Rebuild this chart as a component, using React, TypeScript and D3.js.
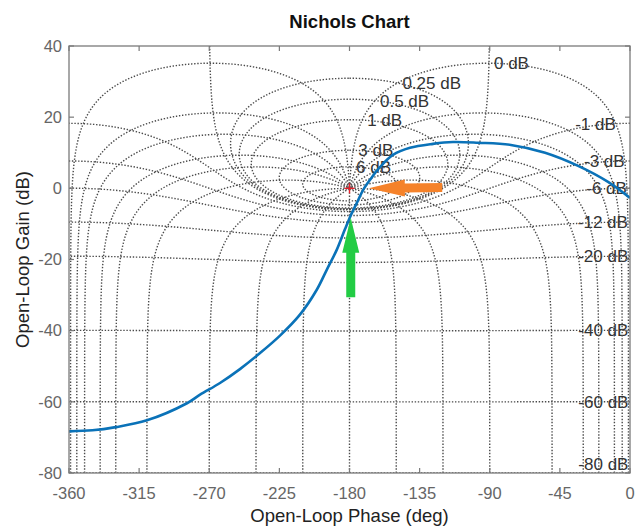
import React from "react";
import * as d3 from "d3";

// ---------- data ----------
const phaseTicks = [-360, -315, -270, -225, -180, -135, -90, -45, 0];
const gainTicks = [-80, -60, -40, -20, 0, 20, 40];

// closed-loop magnitude contours (dB)
const clGainContours = [6, 3, 1, 0.5, 0.25, 0, -1, -3, -6, -12, -20, -40, -60, -80];
const clGainLabels = ["6 dB", "3 dB", "1 dB", "0.5 dB", "0.25 dB", "0 dB", "-1 dB", "-3 dB", "-6 dB", "-12 dB", "-20 dB", "-40 dB", "-60 dB", "-80 dB"];
// closed-loop phase contours (deg)
const clPhaseContours = [-1, -5, -10, -20, -30, -50, -90, -120, -150, -180];

// open-loop response
const olPhase = [-360, -345, -330, -310, -284.3, -275.9, -263.1, -250.3, -237.4, -224.6, -211.8, -201.0, -194.6, -188.2, -183, -179.7, -175.2, -171.3, -166.8, -160.4, -152.1, -141.2, -126.4, -113.6, -97.5, -76.4, -54.5, -33.3, -14.1, 0];
const olGain = [-68.3, -68.0, -67.1, -65.2, -60.4, -58.0, -54.7, -50.8, -46.3, -41.4, -35.5, -28.5, -22.9, -17.3, -11.6, -8.1, -4.0, -0.5, 2.4, 6.0, 9.4, 11.4, 12.5, 13.0, 12.8, 12.2, 10.0, 6.3, 1.8, -2.7];

const criticalPoint = { phase: -180, gain: 0 };
// annotation arrows [tailPhase, tailGain, tipPhase, tipGain]
const orangeArrow = [-120.5, 0.2, -167.6, 0.0];
const greenArrow = [-179.2, -30.6, -179.2, -8.3];

// ---------- layout ----------
const W = 638, H = 527;
const L = 69, R = 630, T = 46, B = 473;
const FONT = "'Liberation Sans', Arial, Helvetica, sans-serif";

const x = d3.scaleLinear().domain([-360, 0]).range([L, R]);
const y = d3.scaleLinear().domain([-80, 40]).range([B, T]);

// open-loop point from closed-loop M (linear) and phase (rad)
function ol(M: number, th: number): [number, number] {
  const tre = M * Math.cos(th), tim = M * Math.sin(th);
  const dre = 1 - tre, dim = -tim;
  const dmag = Math.hypot(dre, dim);
  const g = M / dmag;
  const ph = (th - Math.atan2(dim, dre)) * 180 / Math.PI;
  return [ph, 20 * Math.log10(g)];
}

const thetaSamples: number[] = (() => {
  const s = new Set<number>();
  for (let i = 0; i <= 500; i++) s.add(Math.pow(10, -4 + (i / 500) * (Math.log10(180) + 4)));
  for (let i = 1; i <= 360; i++) s.add(i * 0.5);
  return Array.from(s).sort((a, b) => a - b).map(v => -v);
})();

const mdbSamples: number[] = (() => {
  const s = new Set<number>([0]);
  for (let i = 0; i <= 600; i++) {
    const v = Math.pow(10, -4 + (i / 600) * 6);
    s.add(v); s.add(-v);
  }
  return Array.from(s).sort((a, b) => a - b);
})();

const line = d3.line<[number, number]>().x(d => x(d[0])).y(d => y(d[1]));

function gainContour(mdb: number): [number, number][] {
  const M = Math.pow(10, mdb / 20);
  const right = thetaSamples.map(t => ol(M, t * Math.PI / 180));
  const left = right.slice().reverse().map(([p, g]) => [-360 - p, g] as [number, number]);
  return right.concat(left);
}

function phaseContour(thDeg: number): [number, number][][] {
  const th = thDeg * Math.PI / 180;
  const right = mdbSamples.map(m => ol(Math.pow(10, m / 20), th));
  if (thDeg === -180) return [right];
  const left = right.map(([p, g]) => [-360 - p, g] as [number, number]);
  return [right, left];
}

const gridPaths: string[] = [];
clGainContours.forEach(m => gridPaths.push(line(gainContour(m)) as string));
clPhaseContours.forEach(t => phaseContour(t).forEach(seg => gridPaths.push(line(seg) as string)));

const curvePts: [number, number][] = olPhase.map((p, i) => [p, olGain[i]]);
const curvePath = d3.line<[number, number]>().x(d => x(d[0])).y(d => y(d[1])).curve(d3.curveCatmullRom.alpha(0.5))(curvePts) as string;

function arrowPath(a: number[], shaft: number, headW: number, headL: number): string {
  const x0 = x(a[0]), y0 = y(a[1]), x1 = x(a[2]), y1 = y(a[3]);
  const len = Math.hypot(x1 - x0, y1 - y0);
  const ux = (x1 - x0) / len, uy = (y1 - y0) / len;
  const nx = -uy, ny = ux;
  const bx = x1 - ux * headL, by = y1 - uy * headL;
  const pts = [
    [x0 + nx * shaft / 2, y0 + ny * shaft / 2],
    [bx + nx * shaft / 2, by + ny * shaft / 2],
    [bx + nx * headW / 2, by + ny * headW / 2],
    [x1, y1],
    [bx - nx * headW / 2, by - ny * headW / 2],
    [bx - nx * shaft / 2, by - ny * shaft / 2],
    [x0 - nx * shaft / 2, y0 - ny * shaft / 2],
  ];
  return "M" + pts.map(p => p[0].toFixed(2) + "," + p[1].toFixed(2)).join("L") + "Z";
}

export default function App() {
  const labels = clGainContours.map((m, i) => {
    const [p, g] = ol(Math.pow(10, m / 20), -1 * Math.PI / 180);
    const pos = m >= 0;
    let ly = y(g);
    ly = Math.min(ly, B - 9);
    return (
      <text key={"l" + i} x={x(p) + (pos ? 5 : 0)} y={ly} dy="0.35em"
        textAnchor={pos ? "start" : "end"} fontSize={17} fill="#333" fontFamily={FONT}>
        {clGainLabels[i]}
      </text>
    );
  });

  return (
    <div style={{ position: "fixed", left: 0, top: 0, width: W, height: H, background: "#fff" }}>
      <svg width={W} height={H} viewBox={`0 0 ${W} ${H}`} style={{ display: "block" }}>
        <defs>
          <clipPath id="plotclip">
            <rect x={L} y={T} width={R - L} height={B - T} />
          </clipPath>
        </defs>
        <rect x={0} y={0} width={W} height={H} fill="#fff" />
        <g clipPath="url(#plotclip)">
          {labels}
          {gridPaths.map((d, i) => (
            <path key={"g" + i} d={d} fill="none" stroke="#4a4a4a" strokeWidth={1.4} strokeDasharray="1.4 1.7" />
          ))}
          <path d={curvePath} fill="none" stroke="#0a72b8" strokeWidth={2.6} />
          <g stroke="#e8202a" strokeWidth={1.4}>
            <line x1={x(criticalPoint.phase) - 5} x2={x(criticalPoint.phase) + 5} y1={y(criticalPoint.gain)} y2={y(criticalPoint.gain)} />
            <line x1={x(criticalPoint.phase)} x2={x(criticalPoint.phase)} y1={y(criticalPoint.gain) - 5} y2={y(criticalPoint.gain) + 5} />
          </g>
          <path d={arrowPath(orangeArrow, 9, 17, 36)} fill="#f5822a" />
          <path d={arrowPath(greenArrow, 9, 17, 35)} fill="#22cc44" />
        </g>
        {/* axes box */}
        <rect x={L} y={T} width={R - L} height={B - T} fill="none" stroke="#7a7a7a" strokeWidth={1.3} />
        {phaseTicks.map(t => (
          <g key={"xt" + t}>
            <line x1={x(t)} x2={x(t)} y1={B} y2={B - 5} stroke="#7a7a7a" strokeWidth={1.2} />
            <line x1={x(t)} x2={x(t)} y1={T} y2={T + 5} stroke="#7a7a7a" strokeWidth={1.2} />
            <text x={x(t)} y={499} textAnchor="middle" fontSize={16.5} fill="#666" fontFamily={FONT}>{t}</text>
          </g>
        ))}
        {gainTicks.map(t => (
          <g key={"yt" + t}>
            <line x1={L} x2={L + 5} y1={y(t)} y2={y(t)} stroke="#7a7a7a" strokeWidth={1.2} />
            <line x1={R} x2={R - 5} y1={y(t)} y2={y(t)} stroke="#7a7a7a" strokeWidth={1.2} />
            <text x={62} y={y(t)} dy="0.35em" textAnchor="end" fontSize={16.5} fill="#666" fontFamily={FONT}>{t}</text>
          </g>
        ))}
        <text x={(L + R) / 2} y={28} textAnchor="middle" fontSize={18.5} fontWeight="bold" fill="#111" fontFamily={FONT}>Nichols Chart</text>
        <text x={(L + R) / 2} y={522} textAnchor="middle" fontSize={18.5} fill="#222" fontFamily={FONT}>Open-Loop Phase (deg)</text>
        <text transform={`translate(29,${(T + B) / 2}) rotate(-90)`} textAnchor="middle" fontSize={18.5} fill="#222" fontFamily={FONT}>Open-Loop Gain (dB)</text>
      </svg>
    </div>
  );
}
